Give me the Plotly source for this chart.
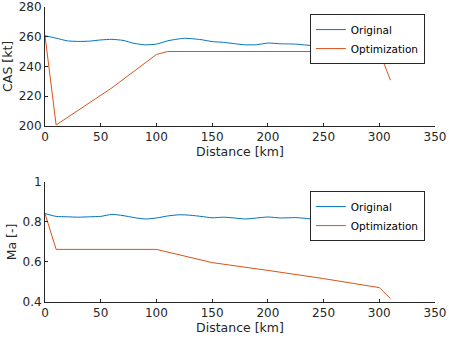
import plotly.graph_objects as go

# Top panel: CAS [kt]
orig_cas_x = [0, 10, 20, 30, 40, 50, 60, 70, 80, 90, 100, 110, 125, 140, 150, 160, 170, 180, 190, 200, 212, 225, 235, 245, 255, 265, 280, 300, 310]
orig_cas_y = [260.6, 259.0, 257.2, 256.8, 257.0, 257.8, 258.2, 257.5, 255.5, 254.5, 255.0, 257.2, 258.9, 258.0, 256.7, 256.2, 255.3, 254.5, 254.6, 255.7, 255.2, 255.0, 254.3, 253.8, 255.5, 255.0, 254.5, 252.4, 250.5]
opt_cas_x = [0, 10, 60, 100, 110, 300, 310]
opt_cas_y = [260.6, 200.5, 225.5, 248.0, 250.0, 250.0, 230.7]

# Bottom panel: Ma [-]
orig_ma_x = [0, 10, 20, 30, 40, 50, 60, 70, 80, 90, 100, 110, 120, 130, 140, 150, 160, 170, 180, 190, 200, 212, 225, 240, 250, 260, 280, 300, 310]
orig_ma_y = [0.842, 0.828, 0.826, 0.824, 0.826, 0.828, 0.838, 0.832, 0.822, 0.815, 0.820, 0.830, 0.836, 0.834, 0.828, 0.821, 0.824, 0.820, 0.815, 0.820, 0.825, 0.820, 0.822, 0.815, 0.813, 0.822, 0.826, 0.830, 0.828]
opt_ma_x = [0, 10, 100, 150, 200, 250, 300, 310]
opt_ma_y = [0.842, 0.663, 0.663, 0.597, 0.558, 0.517, 0.472, 0.417]

x_ticks = [0, 50, 100, 150, 200, 250, 300, 350]
cas_ticks = [200, 220, 240, 260, 280]
ma_ticks = [0.4, 0.6, 0.8, 1]
ma_tick_text = ["0.4", "0.6", "0.8", "1"]

BLUE = "#0072BD"
ORANGE = "#D95319"
AXC = "#262626"
FONT = "DejaVu Sans"

fig = go.Figure()
fig.add_trace(go.Scatter(x=orig_cas_x, y=orig_cas_y, mode="lines", name="Original",
                         line=dict(color=BLUE, width=1, shape="spline", smoothing=0.6),
                         xaxis="x", yaxis="y", legend="legend"))
fig.add_trace(go.Scatter(x=opt_cas_x, y=opt_cas_y, mode="lines", name="Optimization",
                         line=dict(color=ORANGE, width=1),
                         xaxis="x", yaxis="y", legend="legend"))
fig.add_trace(go.Scatter(x=orig_ma_x, y=orig_ma_y, mode="lines", name="Original",
                         line=dict(color=BLUE, width=1, shape="spline", smoothing=0.6),
                         xaxis="x2", yaxis="y2", legend="legend2"))
fig.add_trace(go.Scatter(x=opt_ma_x, y=opt_ma_y, mode="lines", name="Optimization",
                         line=dict(color=ORANGE, width=1),
                         xaxis="x2", yaxis="y2", legend="legend2"))

axcommon = dict(showline=True, linecolor=AXC, linewidth=1, ticks="inside", ticklen=3,
                tickcolor=AXC, showgrid=False, zeroline=False, automargin=False,
                ticklabeloverflow="allow",
                tickfont=dict(family=FONT, size=12, color=AXC), mirror=False)
tfont = dict(family=FONT, size=12.5, color=AXC)

fig.update_layout(
    width=449, height=338,
    margin=dict(l=45, r=14, t=7, b=36),
    paper_bgcolor="white", plot_bgcolor="white",
    font=dict(family=FONT, size=12, color=AXC),
    xaxis=dict(domain=[0, 1], range=[0, 350], tickvals=x_ticks,
               anchor="y", title=dict(text="Distance [km]", standoff=2, font=tfont), **axcommon),
    yaxis=dict(domain=[0.5976, 1], range=[200, 280], tickvals=cas_ticks,
               anchor="x", title=dict(text="CAS [kt]", standoff=3, font=tfont), **axcommon),
    xaxis2=dict(domain=[0, 1], range=[0, 350], tickvals=x_ticks,
                anchor="y2", title=dict(text="Distance [km]", standoff=2, font=tfont), **axcommon),
    yaxis2=dict(domain=[0, 0.4068], range=[0.4, 1], tickvals=ma_ticks, ticktext=ma_tick_text,
                anchor="x2", title=dict(text="Ma [-]", standoff=3, font=tfont), **axcommon),
    legend=dict(x=0.974, xanchor="right", y=0.976, yanchor="top", bgcolor="white",
                bordercolor=AXC, borderwidth=1, itemwidth=30, tracegroupgap=0,
                font=dict(family=FONT, size=10.5, color="black")),
    legend2=dict(x=0.974, xanchor="right", y=0.376, yanchor="top", bgcolor="white",
                 bordercolor=AXC, borderwidth=1, itemwidth=30, tracegroupgap=0,
                 font=dict(family=FONT, size=10.5, color="black")),
)

fig.write_html("out.html")
